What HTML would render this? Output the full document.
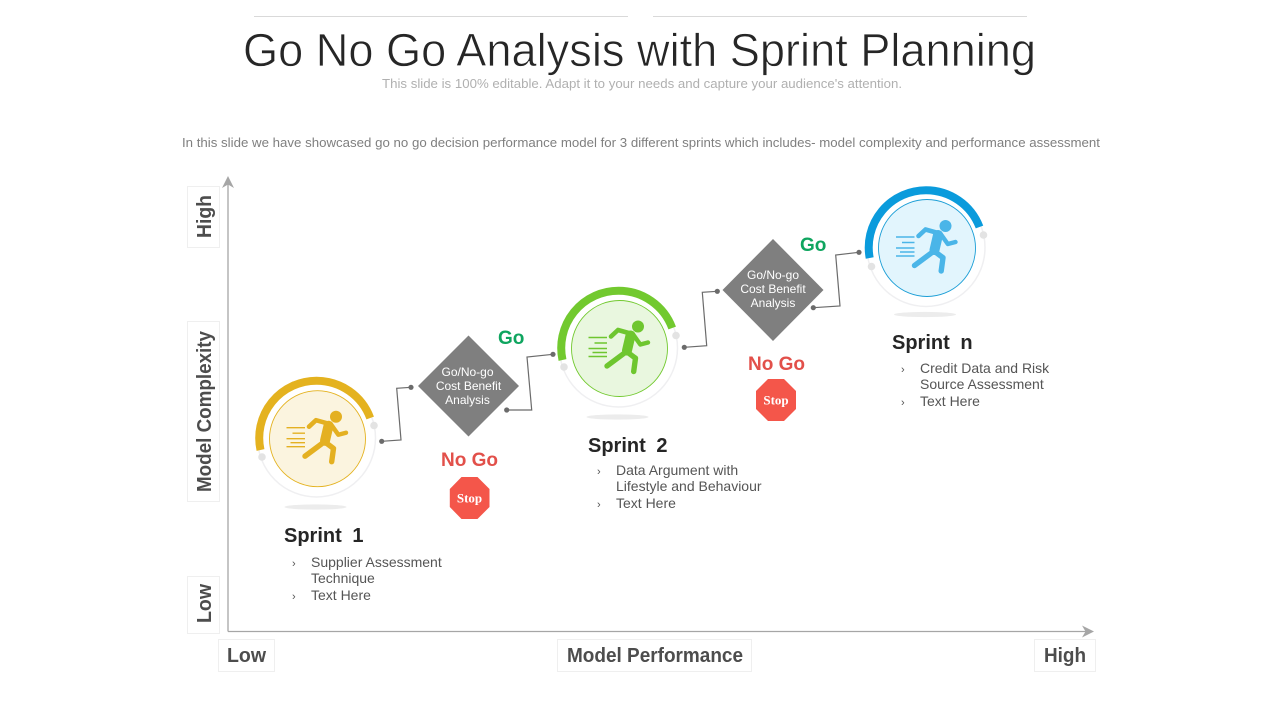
<!DOCTYPE html>
<html lang="en">
<head>
<meta charset="utf-8">
<title>Go No Go Analysis with Sprint Planning</title>
<style>
html,body{margin:0;padding:0;background:#fff;width:1280px;height:720px;overflow:hidden}
svg{display:block}
text{font-family:"Liberation Sans",sans-serif}
</style>
</head>
<body>
<svg width="1280" height="720" viewBox="0 0 1280 720" xmlns="http://www.w3.org/2000/svg">
  <defs>
    <g id="runner">
      <circle cx="18.500" cy="-22" r="6" fill="currentColor"/>
      <g fill="none" stroke="currentColor" stroke-linecap="round" stroke-linejoin="round">
        <path d="M11-13 L7.500 2" stroke-width="10"/>
        <path d="M11-15 L-1.500-18.500 L-8.500-12" stroke-width="4.600"/>
        <path d="M13-15 L20.800-4 L28.500-6" stroke-width="4.400"/>
        <path d="M7 3 L-12.500 17.500" stroke-width="5.400"/>
        <path d="M7 3 L16 9.700 L14.200 23" stroke-width="5.400"/>
      </g>
      <g stroke="currentColor" stroke-width="1.400">
        <path d="M-31-11H-12.500M-25-5.500H-12.500M-31 0H-12.500M-27 4H-12.500M-31 8H-12.500"/>
      </g>
    </g>
  </defs>

  <g>
    <line x1="254" y1="16.500" x2="628" y2="16.500" stroke="#d9d9d9"/>
    <line x1="653" y1="16.500" x2="1027" y2="16.500" stroke="#d9d9d9"/>
    <text x="243" y="66" font-size="46" fill="#262626" stroke="#fff" stroke-width=".7" paint-order="fill" textLength="793" lengthAdjust="spacingAndGlyphs">Go No Go Analysis with Sprint Planning</text>
    <text x="382" y="88" font-size="13" fill="#b0b0b0" textLength="520" lengthAdjust="spacingAndGlyphs">This slide is 100% editable. Adapt it to your needs and capture your audience's attention.</text>
    <text x="182" y="147" font-size="13" fill="#7f7f7f" textLength="918" lengthAdjust="spacingAndGlyphs">In this slide we have showcased go no go decision performance model for 3 different sprints which includes- model complexity and performance assessment</text>
  </g>

  <g>
    <path d="M228 631.500V182" fill="none" stroke="#a6a6a6" stroke-width="1.300"/>
    <path d="M228 631.500H1088" fill="none" stroke="#a6a6a6" stroke-width="1.300"/>
    <path d="M228 176 L234 188 L228 184.500 L222 188 Z" fill="#a6a6a6"/>
    <path d="M1094 631.500 L1082 625.500 L1085.500 631.500 L1082 637.500 Z" fill="#a6a6a6"/>

    <g fill="#fff" stroke="#efefef">
      <rect x="187.500" y="186.500" width="32" height="61"/>
      <rect x="187.500" y="321.500" width="32" height="180"/>
      <rect x="187.500" y="576.500" width="32" height="57"/>
      <rect x="218.500" y="639.500" width="56" height="32"/>
      <rect x="557.500" y="639.500" width="194" height="32"/>
      <rect x="1034.500" y="639.500" width="61" height="32"/>
    </g>
    <g font-size="20" font-weight="700" fill="#4d4d4d">
      <text transform="translate(211 238) rotate(-90)" textLength="43" lengthAdjust="spacingAndGlyphs">High</text>
      <text transform="translate(211 492) rotate(-90)" textLength="161" lengthAdjust="spacingAndGlyphs">Model Complexity</text>
      <text transform="translate(211 623) rotate(-90)" textLength="39" lengthAdjust="spacingAndGlyphs">Low</text>
      <text x="227" y="662" textLength="39" lengthAdjust="spacingAndGlyphs">Low</text>
      <text x="567" y="662" textLength="176" lengthAdjust="spacingAndGlyphs">Model Performance</text>
      <text x="1044" y="662" textLength="42" lengthAdjust="spacingAndGlyphs">High</text>
    </g>
  </g>

  <g fill="none" stroke="#6b6b6b" stroke-width="1.200">
    <path d="M381.700 441.300L401 440L396.700 388.300L411 387.300"/>
    <path d="M506.700 410L531.700 410L527 357L553 354.300"/>
    <path d="M684.300 347.300L706.700 345.700L702.300 292.300L717.300 291.300"/>
    <path d="M813.300 307.700L840 306L835.700 255L859 252.300"/>
    <g fill="#6b6b6b" stroke="none">
      <circle cx="381.700" cy="441.300" r="2.600"/><circle cx="411" cy="387.300" r="2.600"/>
      <circle cx="506.700" cy="410" r="2.600"/><circle cx="553" cy="354.300" r="2.600"/>
      <circle cx="684.300" cy="347.300" r="2.600"/><circle cx="717.300" cy="291.300" r="2.600"/>
      <circle cx="813.300" cy="307.700" r="2.600"/><circle cx="859" cy="252.300" r="2.600"/>
    </g>
  </g>

  <!-- Sprint 1 -->
  <g transform="translate(316.500 438)">
    <ellipse cx="-1" cy="69" rx="31" ry="2.600" fill="#ececec"/>
    <circle r="59" fill="#fff" stroke="#efeff1" stroke-width="1.500"/>
    <path d="M-56 12 A57.300 57.300 0 0 1 0-57.300 A57.300 57.300 0 0 1 53.700-20" fill="none" stroke="#e4b21f" stroke-width="8"/>
    <circle cx="57.500" cy="-12.500" r="3.800" fill="#e3e3e3"/>
    <circle cx="-54.500" cy="19" r="3.800" fill="#e3e3e3"/>
    <circle cx="1" cy=".7" r="48" fill="#fbf4df" stroke="#e4b21f" stroke-width=".9"/>
    <use href="#runner" x="1" y=".7" color="#e4b021"/>
  </g>
  <g>
    <text x="284" y="542" font-size="20" font-weight="700" fill="#262626" word-spacing="5">Sprint 1</text>
    <g font-size="14" fill="#555">
      <text x="292" y="567" font-size="11">›</text>
      <text x="311" y="567">Supplier Assessment</text>
      <text x="311" y="583">Technique</text>
      <text x="292" y="600" font-size="11">›</text>
      <text x="311" y="600">Text Here</text>
    </g>
  </g>

  <!-- Sprint 2 -->
  <g transform="translate(618.500 348)">
    <ellipse cx="-1" cy="69" rx="31" ry="2.600" fill="#ececec"/>
    <circle r="59" fill="#fff" stroke="#efeff1" stroke-width="1.500"/>
    <path d="M-56 12 A57.300 57.300 0 0 1 0-57.300 A57.300 57.300 0 0 1 53.700-20" fill="none" stroke="#72c92f" stroke-width="8"/>
    <circle cx="57.500" cy="-12.500" r="3.800" fill="#e3e3e3"/>
    <circle cx="-54.500" cy="19" r="3.800" fill="#e3e3e3"/>
    <circle cx="1" cy=".5" r="48" fill="#e9f7df" stroke="#72c92f" stroke-width=".9"/>
    <use href="#runner" x="1" y=".5" color="#6ec62f"/>
  </g>
  <g>
    <text x="588" y="452" font-size="20" font-weight="700" fill="#262626" word-spacing="5">Sprint 2</text>
    <g font-size="14" fill="#555">
      <text x="597" y="475" font-size="11">›</text>
      <text x="616" y="475">Data Argument with</text>
      <text x="616" y="491">Lifestyle and Behaviour</text>
      <text x="597" y="508" font-size="11">›</text>
      <text x="616" y="508">Text Here</text>
    </g>
  </g>

  <!-- Sprint n -->
  <g transform="translate(926 247.500)">
    <ellipse cx="-1" cy="67" rx="31" ry="2.600" fill="#ececec"/>
    <circle r="59" fill="#fff" stroke="#efeff1" stroke-width="1.500"/>
    <path d="M-56.300 10.500 A57.300 57.300 0 0 1 0-57.300 A57.300 57.300 0 0 1 53.500-20.500" fill="none" stroke="#0a9bdc" stroke-width="8"/>
    <circle cx="57.500" cy="-12.500" r="3.800" fill="#e3e3e3"/>
    <circle cx="-54.500" cy="19" r="3.800" fill="#e3e3e3"/>
    <circle cx="1" cy=".5" r="48.500" fill="#e2f5fd" stroke="#1b9ed6" stroke-width=".9"/>
    <use href="#runner" x="1" y=".5" color="#4ab5e8"/>
  </g>
  <g>
    <text x="892" y="349" font-size="20" font-weight="700" fill="#262626" word-spacing="5">Sprint n</text>
    <g font-size="14" fill="#555">
      <text x="901" y="373" font-size="11">›</text>
      <text x="920" y="373">Credit Data and Risk</text>
      <text x="920" y="389">Source Assessment</text>
      <text x="901" y="406" font-size="11">›</text>
      <text x="920" y="406">Text Here</text>
    </g>
  </g>

  <!-- Decision 1 -->
  <g>
    <path d="M468.500 335.500L519 386L468.500 436.500L418 386Z" fill="#7f7f7f"/>
    <g font-size="12" fill="#fff" text-anchor="middle">
      <text x="467.500" y="376">Go/No-go</text>
      <text x="468.500" y="390">Cost Benefit</text>
      <text x="467.500" y="404">Analysis</text>
    </g>
    <text x="498" y="344" font-size="19" font-weight="700" fill="#0fa55f">Go</text>
    <text x="469.500" y="466" font-size="19" font-weight="700" fill="#e2504a" text-anchor="middle">No Go</text>
    <path d="M461.500 477H477.500L489.500 489V507L477.500 519H461.500L449.800 507V489Z" fill="#f4564a"/>
    <text x="469.500" y="502.500" font-size="13" font-weight="700" fill="#fff" text-anchor="middle" style='font-family:"Liberation Serif",serif'>Stop</text>
  </g>

  <!-- Decision 2 -->
  <g>
    <path d="M773 239L823.500 290L773 341L722.500 290Z" fill="#7f7f7f"/>
    <g font-size="12" fill="#fff" text-anchor="middle">
      <text x="773" y="279">Go/No-go</text>
      <text x="773" y="293">Cost Benefit</text>
      <text x="773" y="307">Analysis</text>
    </g>
    <text x="800" y="251" font-size="19" font-weight="700" fill="#0fa55f">Go</text>
    <text x="776.500" y="370" font-size="19" font-weight="700" fill="#e2504a" text-anchor="middle">No Go</text>
    <path d="M768 379H784L796 391V409L784 421H768L756 409V391Z" fill="#f4564a"/>
    <text x="776" y="404.500" font-size="13" font-weight="700" fill="#fff" text-anchor="middle" style='font-family:"Liberation Serif",serif'>Stop</text>
  </g>
</svg>
</body>
</html>
